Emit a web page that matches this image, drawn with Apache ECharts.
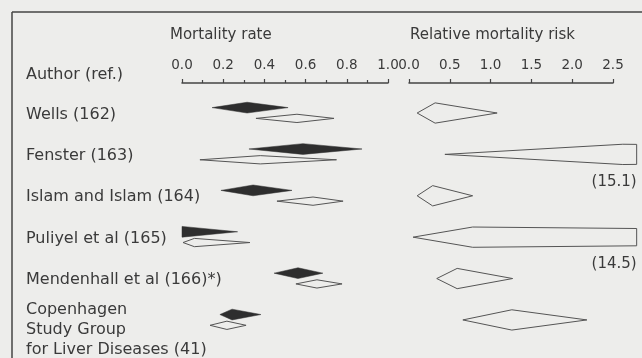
<!DOCTYPE html>
<html>
<head>
<meta charset="utf-8">
<script src="https://cdn.jsdelivr.net/npm/echarts/dist/echarts.min.js"></script>
<style>
  html, body { margin: 0; padding: 0; background: #ededeb; }
  #chart { width: 642px; height: 358px; }
</style>
</head>
<body>
<div id="chart"></div>
<script>
// study names (row order, top to bottom)
const studies = ['Wells (162)', 'Fenster (163)', 'Islam and Islam (164)', 'Puliyel et al (165)',
  'Mendenhall et al (166)*)', 'Copenhagen\nStudy Group\nfor Liver Diseases (41)'];

// mortality rate, filled diamonds: [low, estimate, high]
const rateFilled = [[0.146, 0.316, 0.515], [0.325, 0.587, 0.874], [0.189, 0.345, 0.534],
  [-0.05, 0.0, 0.27], [0.447, 0.563, 0.684], [0.184, 0.243, 0.383]];
// mortality rate, open diamonds: [low, estimate, high]
const rateOpen = [[0.359, 0.558, 0.738], [0.087, 0.38, 0.75], [0.461, 0.636, 0.782],
  [0.005, 0.06, 0.33], [0.553, 0.655, 0.777], [0.136, 0.218, 0.311]];
// relative mortality risk: [low, estimate, high]
const riskVals = [[0.10, 0.32, 1.08], [0.44, 2.62, 15.1], [0.10, 0.29, 0.78],
  [0.05, 0.78, 14.5], [0.34, 0.59, 1.27], [0.66, 1.26, 2.18]];

const rateTicks = ['0.0', '0.2', '0.4', '0.6', '0.8', '1.0'];
const riskTicks = ['0.0', '0.5', '1.0', '1.5', '2.0', '2.5'];

const FONT = 'DejaVu Sans';
const INK = '#3a3a3a';
const RISK_DRAW_MAX = 2.79; // the plot cuts long intervals off here

const rows = (arr) => arr.map((d, i) => [d[0], d[1], d[2], i]);

function clipX(pts, xmin, xmax) {
  const cut = (poly, inside, ex) => {
    const out = [];
    for (let i = 0; i < poly.length; i++) {
      const p = poly[i], q = poly[(i + 1) % poly.length];
      const pin = inside(p), qin = inside(q);
      if (pin) out.push(p);
      if (pin !== qin) {
        const t = (ex - p[0]) / (q[0] - p[0]);
        out.push([ex, p[1] + t * (q[1] - p[1])]);
      }
    }
    return out;
  };
  return cut(cut(pts, p => p[0] >= xmin - 0.01, xmin), p => p[0] <= xmax + 0.01, xmax);
}

function diamond(offset, half, style, lo, hi) {
  return function (params, api) {
    const a = api.value(0), e = api.value(1), b = api.value(2), r = api.value(3) + offset;
    let pts = [api.coord([a, r]), api.coord([e, r - half]), api.coord([b, r]), api.coord([e, r + half])];
    pts = clipX(pts, api.coord([lo, r])[0], api.coord([hi, r])[0]);
    const children = [{ type: 'polygon', shape: { points: pts }, style: style }];
    if (b > hi) {
      const p = api.coord([hi, r + 0.66]);
      children.push({ type: 'text', x: p[0], y: p[1],
        style: { text: '(' + b + ')', fill: INK, font: '15px ' + FONT, align: 'right', verticalAlign: 'middle' } });
    }
    return { type: 'group', children: children };
  };
}

const axisCommon = {
  type: 'value', position: 'top',
  axisLine: { onZero: false, lineStyle: { color: '#444', width: 1.5 } },
  axisTick: { length: 4, lineStyle: { color: '#444', width: 1.2 } },
  axisLabel: { color: INK, fontFamily: FONT, fontSize: 13.5, margin: 11 },
  splitLine: { show: false }
};
const yCommon = { type: 'value', inverse: true, min: -0.725, max: 5.92, show: false };

const chart = echarts.init(document.getElementById('chart'));
chart.setOption({
  backgroundColor: '#ededeb',
  animation: false,
  grid: [
    { left: 182, top: 83, width: 206, height: 275 },
    { left: 409, top: 83, width: 204, height: 275 }
  ],
  xAxis: [
    Object.assign({}, axisCommon, { gridIndex: 0, min: 0, max: 1, interval: 0.2,
      minorTick: { show: true, splitNumber: 2, length: 3, lineStyle: { color: '#444', width: 1.2 } },
      axisLabel: Object.assign({}, axisCommon.axisLabel, { formatter: (v) => rateTicks[Math.round(v / 0.2)] }) }),
    Object.assign({}, axisCommon, { gridIndex: 1, min: 0, max: 2.5, interval: 0.5,
      axisLabel: Object.assign({}, axisCommon.axisLabel, { formatter: (v) => riskTicks[Math.round(v / 0.5)] }) })
  ],
  yAxis: [Object.assign({ gridIndex: 0 }, yCommon), Object.assign({ gridIndex: 1 }, yCommon)],
  series: [
    { type: 'custom', xAxisIndex: 0, yAxisIndex: 0, data: rows(rateFilled), encode: { x: [0, 1, 2], y: 3 },
      renderItem: diamond(-0.13, 0.13, { fill: '#2e2e2e', stroke: '#2e2e2e', lineWidth: 0.5 }, 0, 1) },
    { type: 'custom', xAxisIndex: 0, yAxisIndex: 0, data: rows(rateOpen), encode: { x: [0, 1, 2], y: 3 },
      renderItem: diamond(0.13, 0.1, { fill: 'none', stroke: '#555', lineWidth: 1 }, 0, 1) },
    { type: 'custom', xAxisIndex: 1, yAxisIndex: 1, data: rows(riskVals), encode: { x: [0, 1, 2], y: 3 },
      renderItem: diamond(0, 0.245, { fill: 'none', stroke: '#555', lineWidth: 1 }, 0, RISK_DRAW_MAX) }
  ]
});

// text and frame around the plot
const graphics = [
  { type: 'line', shape: { x1: 12, y1: 12, x2: 642, y2: 12 }, style: { stroke: '#444', lineWidth: 1.5 } },
  { type: 'line', shape: { x1: 12, y1: 12, x2: 12, y2: 358 }, style: { stroke: '#444', lineWidth: 1.5 } },
  { type: 'text', x: 170, y: 35, style: { text: 'Mortality rate', fill: INK, font: '15px ' + FONT, verticalAlign: 'middle' } },
  { type: 'text', x: 410, y: 35, style: { text: 'Relative mortality risk', fill: INK, font: '15px ' + FONT, verticalAlign: 'middle' } },
  { type: 'text', x: 26, y: 75, style: { text: 'Author (ref.)', fill: INK, font: '16px ' + FONT, verticalAlign: 'middle' } }
];
studies.forEach((name, i) => {
  const y = chart.convertToPixel({ yAxisIndex: 0 }, i);
  const multi = name.indexOf('\n') >= 0;
  graphics.push({ type: 'text', x: 26, y: y + (multi ? 10 : 1.5),
    style: { text: name, fill: INK, font: '16px ' + FONT, lineHeight: 20, verticalAlign: 'middle' } });
});
chart.setOption({ graphic: graphics });
</script>
</body>
</html>
